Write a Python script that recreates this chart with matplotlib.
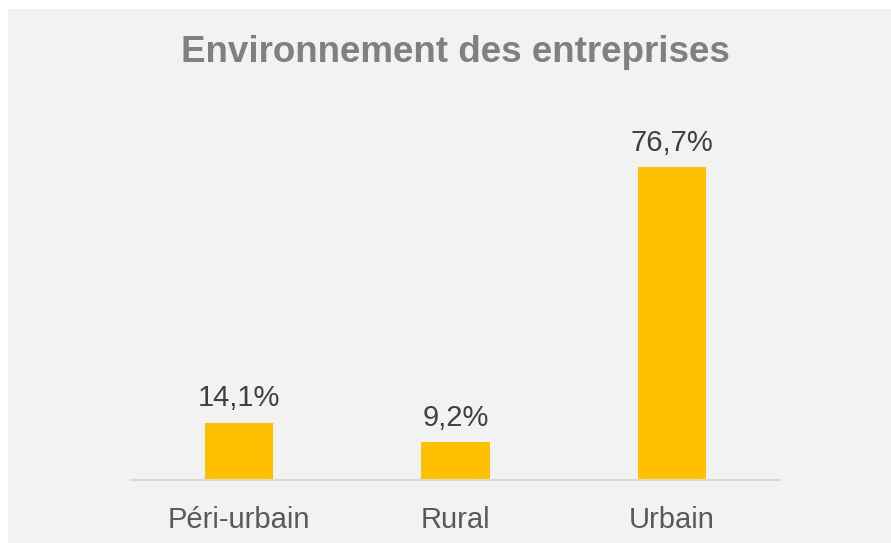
import matplotlib.pyplot as plt
from matplotlib.patches import Rectangle

categories = ["Péri-urbain", "Rural", "Urbain"]
values = [14.1, 9.2, 76.7]
labels = ["14,1%", "9,2%", "76,7%"]

plt.rcParams['font.family'] = ['Liberation Sans', 'DejaVu Sans']

W, H = 891, 543
fig = plt.figure(figsize=(W / 100, H / 100), dpi=100, facecolor="white")

# light grey chart area, kept behind the axes
fig.patches.append(Rectangle((8 / W, 0), 1 - 8 / W, (H - 9) / H,
                             transform=fig.transFigure, facecolor="#F2F2F2",
                             edgecolor="none", zorder=-10))

ax = fig.add_axes([131 / W, 63 / H, (780 - 131) / W, 367 / H])
ax.set_facecolor("none")
ax.set_zorder(1)

x = range(len(categories))
bars = ax.bar(x, values, width=0.315, color="#FFC000")
ax.set_xlim(-0.5, 2.5)
ax.set_ylim(0, 90)

for b, lab in zip(bars, labels):
    ax.annotate(lab, (b.get_x() + b.get_width() / 2, b.get_height()),
                xytext=(0, 12), textcoords="offset points",
                ha="center", va="baseline", fontsize=21, color="#404040")

ax.set_xticks(list(x))
ax.set_xticklabels(categories, fontsize=21, color="#595959")
ax.tick_params(axis="x", length=0, pad=19)
ax.set_yticks([])
for s in ["top", "right", "left"]:
    ax.spines[s].set_visible(False)
ax.spines["bottom"].set_color("#D9D9D9")
ax.spines["bottom"].set_linewidth(1.5)

fig.text(455 / W, 1 - 62 / H, "Environnement des entreprises", ha="center",
         va="baseline", fontsize=26.5, fontweight="bold", color="#808080")

fig.savefig("out.png", dpi=100)
